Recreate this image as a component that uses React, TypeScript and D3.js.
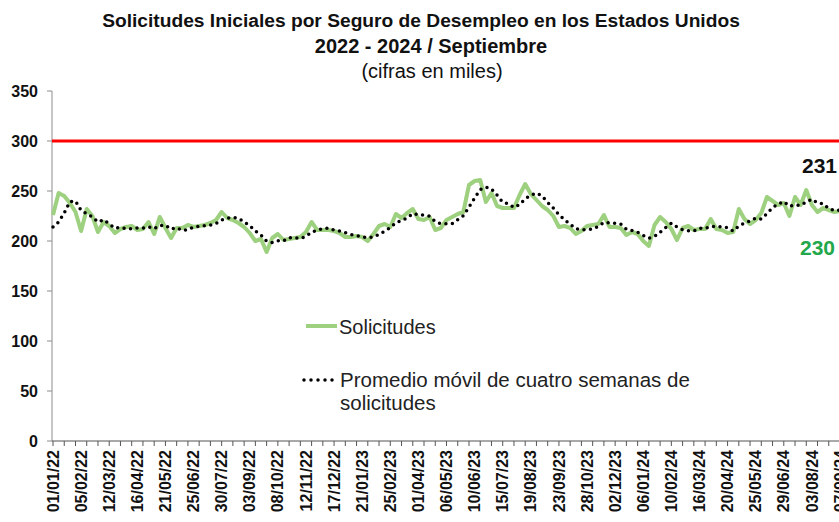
import * as d3 from "d3";
import { useEffect, useRef } from "react";

// semana inicial (sábado 01/01/22), una observación por semana
const startWeek = new Date(2022, 0, 1);

// solicitudes iniciales semanales (miles)
const solicitudes = [
  226, 248, 245, 238, 229, 210, 232, 225, 209, 219,
  215, 208, 212, 214, 215, 211, 212, 219, 207, 224,
  213, 203, 213, 213, 216, 214, 215, 216, 218, 221,
  229, 223, 221, 218, 214, 208, 200, 202, 189, 203,
  207, 201, 202, 203, 204, 209, 219, 211, 211, 211,
  210, 208, 204, 204, 205, 204, 200, 207, 215, 217,
  214, 227, 223, 228, 232, 222, 221, 224, 211, 213,
  221, 224, 227, 229, 256, 260, 261, 239, 248, 235,
  233, 233, 233, 246, 257, 247, 241, 235, 231, 225,
  214, 215, 213, 207, 210, 215, 216, 217, 226, 214,
  214, 213, 206, 209, 207, 200, 195, 216, 224, 219,
  212, 201, 213, 215, 211, 212, 212, 222, 212, 211,
  208, 209, 232, 222, 217, 221, 228, 244, 240, 236,
  238, 225, 244, 236, 251, 236, 229, 233, 231, 229,
  230,
];

// promedio móvil de cuatro semanas (miles)
const promedio = [
  214, 219, 228, 239.3, 240, 230.5, 227.3, 224, 219, 221.3,
  217, 212.8, 213.5, 212.3, 212.3, 213, 213, 214.3, 212.3, 215.5,
  215.8, 211.8, 213.3, 210.5, 211.3, 214, 214.5, 215.3, 215.8, 217.5,
  221, 222.8, 223.5, 222.8, 219, 215.3, 210, 206, 199.8, 198.5,
  200.3, 200, 203.3, 203.3, 202.5, 204.5, 208.8, 210.8, 212.5, 213,
  210.8, 210, 208.3, 206.5, 205.3, 204.3, 203.3, 204, 206.5, 209.8,
  213.3, 218.3, 220.3, 223, 227.5, 226.3, 225.8, 224.8, 219.5, 217.3,
  217.3, 217.3, 221.3, 225.3, 234, 243, 251.5, 254, 252, 245.8,
  238.8, 237.3, 233.5, 236.3, 242.3, 245.8, 247.8, 245, 238.5, 233,
  226.3, 221.3, 216.8, 212.3, 211.3, 211.3, 212, 214.5, 218.5, 218.3,
  217.8, 216.8, 211.8, 210.5, 208.8, 205.5, 202.8, 204.5, 208.8, 213.5,
  217.8, 214, 211.3, 210.3, 210, 212.8, 212.5, 214.3, 214.5, 214.3,
  213.3, 210, 215, 217.8, 220, 223, 222, 227.5, 233.3, 237,
  239.5, 234.8, 235.8, 235.8, 239, 241.8, 238, 237.3, 232.3, 230.5,
  230.8,
];

const tickLabels = [
  "01/01/22", "05/02/22", "12/03/22", "16/04/22", "21/05/22", "25/06/22",
  "30/07/22", "03/09/22", "08/10/22", "12/11/22", "17/12/22", "21/01/23",
  "25/02/23", "01/04/23", "06/05/23", "10/06/23", "15/07/23", "19/08/23",
  "23/09/23", "28/10/23", "02/12/23", "06/01/24", "10/02/24", "16/03/24",
  "20/04/24", "25/05/24", "29/06/24", "03/08/24", "07/09/24",
];

const yTicks = [0, 50, 100, 150, 200, 250, 300, 350];
const umbral = 300;

const FONT = "'Liberation Sans', Arial, sans-serif";

export default function App() {
  const ref = useRef<SVGSVGElement | null>(null);

  useEffect(() => {
    if (!ref.current) return;
    const width = 839;

    const svg = d3.select(ref.current);
    svg.selectAll("*").remove();

    const weeks = solicitudes.map((_, i) => d3.timeWeek.offset(startWeek, i));
    const parse = d3.timeParse("%d/%m/%y");

    const x = d3
      .scaleTime()
      .domain([weeks[0], weeks[weeks.length - 1]])
      .range([53, 840]);

    const y = d3.scaleLinear().domain([0, 350]).range([441, 91]);

    // Títulos
    const title = svg
      .append("g")
      .attr("font-family", FONT)
      .attr("text-anchor", "middle")
      .attr("fill", "#111");
    title
      .append("text")
      .attr("x", 421)
      .attr("y", 27)
      .attr("font-size", 19.2)
      .attr("font-weight", "bold")
      .text("Solicitudes Iniciales por Seguro de Desempleo en los Estados Unidos");
    title
      .append("text")
      .attr("x", 431)
      .attr("y", 53)
      .attr("font-size", 20)
      .attr("font-weight", "bold")
      .text("2022 - 2024 / Septiembre");
    title
      .append("text")
      .attr("x", 432)
      .attr("y", 78)
      .attr("font-size", 20)
      .text("(cifras en miles)");

    // Eje Y
    svg
      .append("line")
      .attr("x1", 52)
      .attr("x2", 52)
      .attr("y1", y(350))
      .attr("y2", y(0))
      .attr("stroke", "#8c8c8c")
      .attr("stroke-width", 1);

    const yg = svg.append("g");
    yg.selectAll("line")
      .data(yTicks)
      .join("line")
      .attr("x1", 47)
      .attr("x2", 52)
      .attr("y1", (d) => y(d))
      .attr("y2", (d) => y(d))
      .attr("stroke", "#8c8c8c");
    yg.selectAll("text")
      .data(yTicks)
      .join("text")
      .attr("x", 38)
      .attr("y", (d) => y(d))
      .attr("dy", "0.35em")
      .attr("text-anchor", "end")
      .attr("font-family", FONT)
      .attr("font-size", 16)
      .attr("font-weight", "bold")
      .attr("fill", "#111")
      .text((d) => d);

    // Eje X
    svg
      .append("line")
      .attr("x1", 52)
      .attr("x2", width)
      .attr("y1", y(0))
      .attr("y2", y(0))
      .attr("stroke", "#555")
      .attr("stroke-width", 1.2);

    const tickWeeks = weeks.filter((_, i) => i % 2 === 0);
    svg
      .append("g")
      .selectAll("line")
      .data(tickWeeks)
      .join("line")
      .attr("x1", (d) => x(d))
      .attr("x2", (d) => x(d))
      .attr("y1", y(0))
      .attr("y2", y(0) + 5)
      .attr("stroke", "#555");

    svg
      .append("g")
      .selectAll("text")
      .data(tickLabels)
      .join("text")
      .attr(
        "transform",
        (d) => `translate(${x(parse(d) as Date)},450) rotate(-90)`
      )
      .attr("dy", "0.35em")
      .attr("text-anchor", "end")
      .attr("font-family", FONT)
      .attr("font-size", 16)
      .attr("font-weight", "bold")
      .attr("fill", "#111")
      .text((d) => d);

    // Línea de referencia 300
    svg
      .append("line")
      .attr("x1", 52)
      .attr("x2", width)
      .attr("y1", y(umbral))
      .attr("y2", y(umbral))
      .attr("stroke", "#ff0000")
      .attr("stroke-width", 3);

    const line = d3
      .line<number>()
      .x((_, i) => x(weeks[i]))
      .y((d) => y(d));

    svg
      .append("path")
      .datum(solicitudes)
      .attr("d", line)
      .attr("fill", "none")
      .attr("stroke", "#9dd07f")
      .attr("stroke-width", 4)
      .attr("stroke-linejoin", "round");

    svg
      .append("path")
      .datum(promedio)
      .attr("d", line)
      .attr("fill", "none")
      .attr("stroke", "#000")
      .attr("stroke-width", 3.5)
      .attr("stroke-linecap", "round")
      .attr("stroke-dasharray", "0 6.5");

    // Etiquetas finales
    const last = solicitudes.length - 1;
    svg
      .append("text")
      .attr("x", 837)
      .attr("y", 173)
      .attr("text-anchor", "end")
      .attr("font-family", FONT)
      .attr("font-size", 21)
      .attr("font-weight", "bold")
      .attr("fill", "#111")
      .text(Math.round(promedio[last]));
    svg
      .append("text")
      .attr("x", 835)
      .attr("y", 255)
      .attr("text-anchor", "end")
      .attr("font-family", FONT)
      .attr("font-size", 21)
      .attr("font-weight", "bold")
      .attr("fill", "#22a84a")
      .text(solicitudes[last]);

    // Leyenda
    const lg = svg.append("g").attr("font-family", FONT).attr("fill", "#222");
    lg.append("line")
      .attr("x1", 306)
      .attr("x2", 337)
      .attr("y1", 326)
      .attr("y2", 326)
      .attr("stroke", "#9dd07f")
      .attr("stroke-width", 4);
    lg.append("text")
      .attr("x", 339)
      .attr("y", 327)
      .attr("dy", "0.35em")
      .attr("font-size", 20)
      .text("Solicitudes");
    lg.append("line")
      .attr("x1", 304)
      .attr("x2", 333)
      .attr("y1", 380)
      .attr("y2", 380)
      .attr("stroke", "#000")
      .attr("stroke-width", 3.5)
      .attr("stroke-linecap", "round")
      .attr("stroke-dasharray", "0 7");
    lg.append("text")
      .attr("x", 340)
      .attr("y", 380)
      .attr("dy", "0.35em")
      .attr("font-size", 20.5)
      .text("Promedio móvil de cuatro semanas de");
    lg.append("text")
      .attr("x", 340)
      .attr("y", 403)
      .attr("dy", "0.35em")
      .attr("font-size", 20.5)
      .text("solicitudes");
  }, []);

  return (
    <div style={{ position: "absolute", left: 0, top: 0, width: 839, height: 522, background: "#fff" }}>
      <svg ref={ref} width={839} height={522} style={{ display: "block" }}></svg>
    </div>
  );
}
